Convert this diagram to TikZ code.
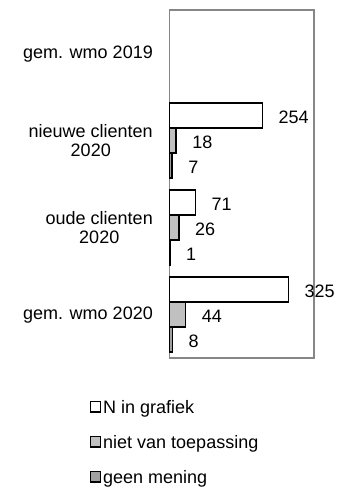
\documentclass[tikz,border=0pt]{standalone}
\usepackage{fontspec}
\setmainfont{Liberation Sans}
\definecolor{framegray}{HTML}{868686}
\definecolor{lightbar}{HTML}{C0C0C0}
\definecolor{darkbar}{HTML}{A0A0A0}
\begin{document}
\begin{tikzpicture}[x=1pt,y=-1pt,
  every node/.style={font=\fontsize{18}{19.4}\selectfont, inner sep=0pt},
  bar/.style={draw=black, line width=1.3pt},
  nbar/.style={bar, fill=white},
  tbar/.style={bar, fill=lightbar},
  gbar/.style={bar, fill=darkbar},
  vallabel/.style={anchor=west},
  catlabel/.style={anchor=east, align=center},
  legtext/.style={anchor=base west},
  legbox/.style={draw=black, line width=1.3pt, minimum size=10.5pt}
]
\useasboundingbox (0,0) rectangle (346,493);
% plot frame
\draw[framegray, line width=1.5pt] (169.5,10) rectangle (314,358);
% bars
\foreach \t/\a/\b/\c/\n in {103/254/18/7/nw, 190/71/26/1/od, 277/325/44/8/gm}{
  \draw[nbar] (169.5,\t) rectangle ({169.5+\a*0.366},{\t+25});
  \draw[tbar] (169.5,{\t+25}) rectangle ({169.5+\b*0.366},{\t+50});
  \draw[gbar] (169.5,{\t+50}) rectangle ({169.5+\c*0.366},{\t+75});
  \node[vallabel] (\n a) at ({169.5+\a*0.366+16},{\t+14}) {\a};
  \node[vallabel] (\n b) at ({169.5+\b*0.366+16},{\t+39}) {\b};
  \node[vallabel] (\n c) at ({169.5+\c*0.366+16},{\t+64}) {\c};
}
% category labels
\node[catlabel] (c0) at (153,54.5) {gem. wmo 2019};
\node[catlabel] (c1) at (153,140.5) {nieuwe clienten\\2020};
\node[catlabel] (c2) at (153,227.5) {oude clienten\\2020};
\node[catlabel] (c3) at (153,315) {gem. wmo 2020};
% legend
\node[legbox, fill=white] (k1) at (95.5,406.7) {};
\node[legbox, fill=lightbar] (k2) at (95.5,441.7) {};
\node[legbox, fill=darkbar] (k3) at (95.5,476.7) {};
\node[legtext] (l1) at (103,413) {N in grafiek};
\node[legtext] (l2) at (103,448) {niet van toepassing};
\node[legtext] (l3) at (103,483) {geen mening};
\end{tikzpicture}
\end{document}
